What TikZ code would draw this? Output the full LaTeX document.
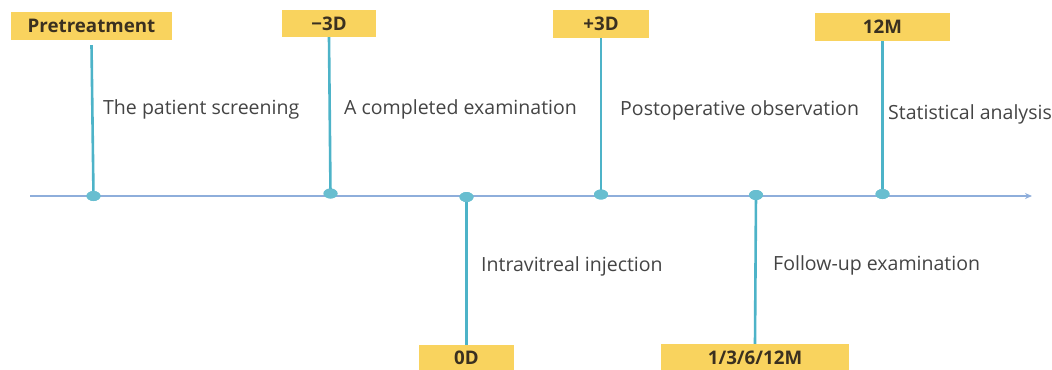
\documentclass[tikz,border=0pt]{standalone}
\usepackage{fontspec}
\setmainfont{Open Sans}
\usetikzlibrary{shapes.geometric,arrows.meta}
\definecolor{boxy}{HTML}{F9D35E}
\definecolor{stemc}{HTML}{4DB3C8}
\definecolor{axisc}{HTML}{8EAEDB}
\definecolor{txtc}{HTML}{444444}
\definecolor{boxtxt}{HTML}{3A3020}
\tikzset{
  tagbox/.style={fill=boxy, draw=none, inner sep=0pt, font=\fontsize{18.8}{19}\selectfont\bfseries, text=boxtxt},
  dotc/.style={ellipse, fill=stemc!85!white, draw=none, minimum width=14bp, minimum height=10bp, inner sep=0pt},
  stemline/.style={draw=stemc, line width=2.6bp},
  desc/.style={anchor=west, inner sep=0pt, font=\fontsize{19.6}{20}\selectfont, text=txtc},
  axisline/.style={draw=axisc, line width=1.8bp, -{Stealth[length=7bp,width=6bp]}}
}
\begin{document}
\begin{tikzpicture}[x=1bp,y=-1bp]
\useasboundingbox (0,0) rectangle (1052,369);
% axis
\coordinate (axL) at (30,196);
\coordinate (axR) at (1032,196);
\draw[axisline] (axL) -- (axR);
% boxes
\node[tagbox, minimum width=161bp, minimum height=28bp] (bPre) at (91.5,26) {Pretreatment};
\node[tagbox, minimum width=94bp, minimum height=27bp] (bM3) at (329,23.5) {−3D};
\node[tagbox, minimum width=96bp, minimum height=28bp] (bP3) at (601,24) {+3D};
\node[tagbox, minimum width=135bp, minimum height=28bp] (b12) at (882.5,27) {12M};
\node[tagbox, minimum width=95bp, minimum height=26bp] (b0) at (466.5,358) {0D};
\node[tagbox, minimum width=188bp, minimum height=28bp] (bF) at (755,358) {1/3/6/12M};
% dots
\node[dotc] (dPre) at (93.5,196) {};
\node[dotc] (dM3) at (330.5,193.5) {};
\node[dotc] (d0) at (466.5,197) {};
\node[dotc] (dP3) at (601,194.5) {};
\node[dotc] (dF) at (756,195) {};
\node[dotc] (d12) at (882.5,194) {};
% stems
\draw[stemline] ([yshift=-5bp]bPre.south) -- (dPre.center);
\draw[stemline] (bM3.south) -- (dM3.center);
\draw[stemline] (bP3.south) -- (dP3.center);
\draw[stemline] (b12.south) -- (d12.center);
\draw[stemline] (d0.center) -- (b0.north);
\draw[stemline] (dF.center) -- (bF.north);
% redraw dots on top
\node[dotc] at (dPre) {};
\node[dotc] at (dM3) {};
\node[dotc] at (d0) {};
\node[dotc] at (dP3) {};
\node[dotc] at (dF) {};
\node[dotc] at (d12) {};
% labels
\node[desc] (tPre) at (103,109) {The patient screening};
\node[desc] (tM3) at (344,109) {A completed examination};
\node[desc] (tP3) at (620,110) {Postoperative observation};
\node[desc] (t12) at (888,114) {Statistical analysis};
\node[desc] (t0) at (481,266) {Intravitreal injection};
\node[desc] (tF) at (773,265) {Follow-up examination};
\end{tikzpicture}
\end{document}
